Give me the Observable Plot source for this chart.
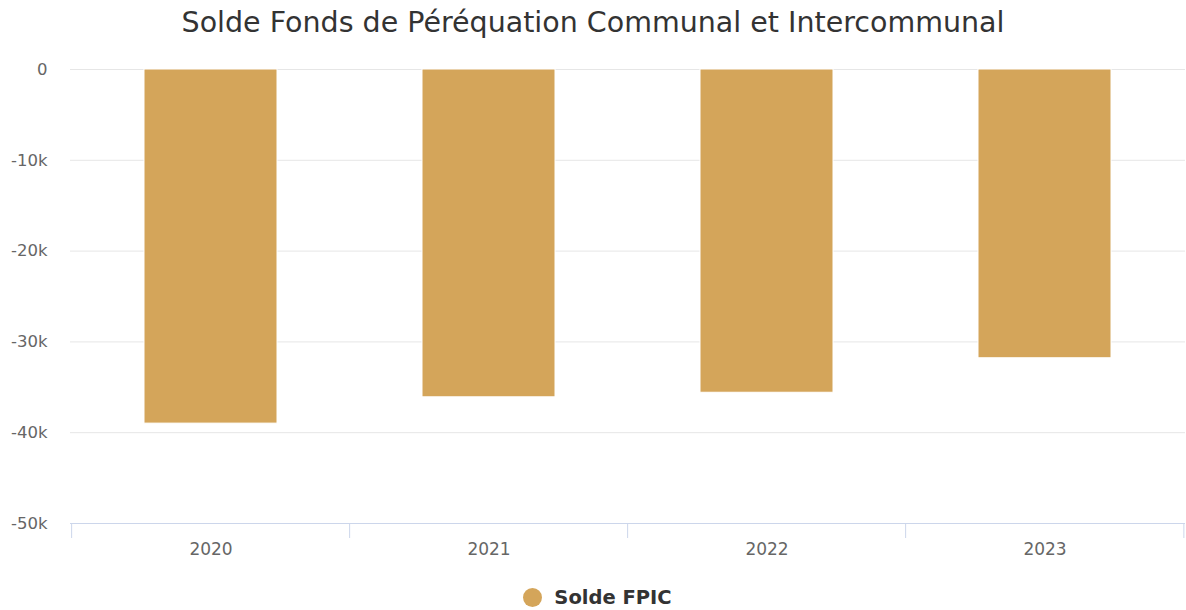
<!DOCTYPE html>
<html>
<head>
<meta charset="utf-8">
<script src="https://cdn.jsdelivr.net/npm/d3@7"></script>
<script src="https://cdn.jsdelivr.net/npm/@observablehq/plot@0.6"></script>
<style>
  html, body { margin: 0; padding: 0; background: #fff; }
  body { width: 1186px; height: 610px; overflow: hidden; font-family: "DejaVu Sans", sans-serif; }
  #title { height: 45px; line-height: 46px; text-align: center; font-size: 28.5px; color: #333333; }
  #chart svg { display: block; }
  #legend { height: 40px; display: flex; justify-content: center; align-items: center; padding-top: 14px; padding-left: 9px; box-sizing: border-box; }
  #legend .sw { width: 19px; height: 19px; border-radius: 50%; background: #d4a55a; margin-right: 12px; }
  #legend span { font-weight: bold; font-size: 19.5px; color: #333333; }
</style>
</head>
<body>
<div id="title">Solde Fonds de Péréquation Communal et Intercommunal</div>
<div id="chart"></div>
<div id="legend"><div class="sw"></div><span>Solde FPIC</span></div>
<script>
const years = ["2020", "2021", "2022", "2023"];
const soldeFPIC = [-39000, -36100, -35600, -31800];
const yTicks = [0, -10000, -20000, -30000, -40000, -50000];
const seriesName = "Solde FPIC";

const data = years.map((y, i) => ({year: y, value: soldeFPIC[i]}));

const W = 1186, H = 525;
const mL = 70, mR = 1, mT = 24, mB = 47;
const step = (W - mL - mR) / years.length;
const fmt = d => d === 0 ? "0" : (d / 1000) + "k";

const chart = Plot.plot({
  width: W,
  height: H,
  marginLeft: mL,
  marginRight: mR,
  marginTop: mT,
  marginBottom: mB,
  style: {fontFamily: "DejaVu Sans, sans-serif", background: "#fff"},
  x: {domain: years, paddingInner: 0.52, paddingOuter: 0.26},
  y: {domain: [-50000, 0]},
  marks: [
    Plot.ruleY(yTicks.filter(d => d !== -50000), {stroke: "#e6e6e6", strokeWidth: 1}),
    Plot.barY(data, {x: "year", y: "value", fill: "#d4a55a", stroke: "#ffffff", strokeWidth: 1}),
    Plot.ruleY([-50000], {stroke: "#ccd6eb", strokeWidth: 1}),
    Plot.ruleX(years, {x: d => d, y1: -50000, y2: -50000, insetBottom: -15, dx: -step / 2, stroke: "#ccd6eb", strokeWidth: 1}),
    Plot.ruleX(years.slice(-1), {x: d => d, y1: -50000, y2: -50000, insetBottom: -15, dx: step / 2 - 0.5, stroke: "#ccd6eb", strokeWidth: 1}),
    Plot.axisX({tickSize: 0, tickPadding: 19, fontSize: 17, fill: "#666666", label: null}),
    Plot.axisY({ticks: yTicks, tickFormat: fmt, tickSize: 0, tickPadding: 23, fontSize: 16.5, fill: "#666666", label: null})
  ]
});
document.getElementById("chart").appendChild(chart);
</script>
</body>
</html>
